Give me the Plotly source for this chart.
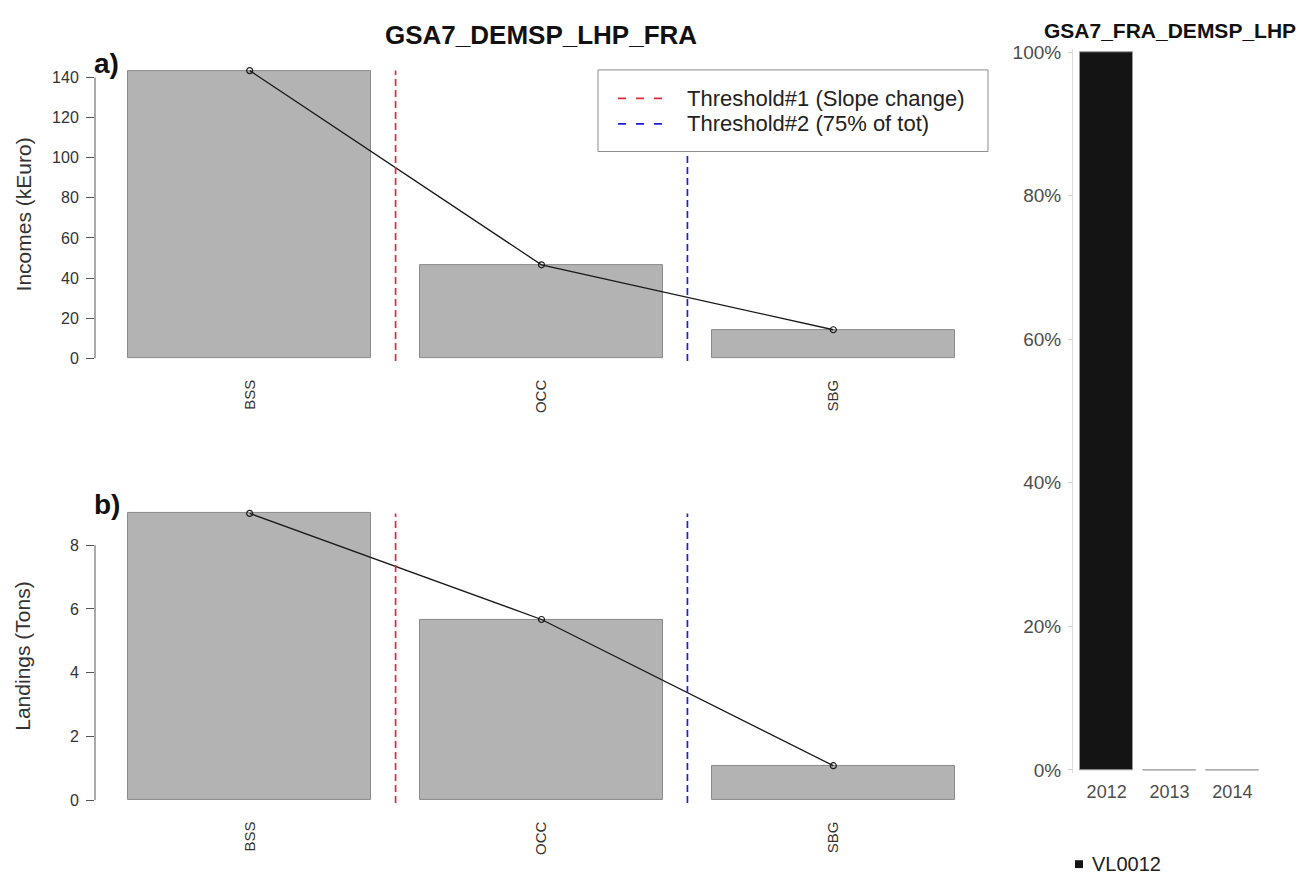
import plotly.graph_objects as go

# ---- data -------------------------------------------------------------
metiers = ["BSS", "OCC", "SBG"]
incomes_keur = [143.5, 46.6, 14.2]
landings_tons = [9.0, 5.67, 1.08]
threshold1_after = "BSS"   # slope change
threshold2_after = "OCC"   # 75% of total
income_ticks = [0, 20, 40, 60, 80, 100, 120, 140]
landing_ticks = [0, 2, 4, 6, 8]

years = ["2012", "2013", "2014"]
vl0012_share = [1.0, 0.0, 0.0]
share_ticks = [0, 0.2, 0.4, 0.6, 0.8, 1.0]

# ---- geometry helpers (barplot style: width 1, space 0.2) -------------
W, H = 1297, 881
FONT = "Liberation Sans"
BAR_W, SPACE = 1.0, 0.2
centers = [SPACE + BAR_W / 2 + i * (BAR_W + SPACE) for i in range(len(metiers))]
x_lo = SPACE
x_hi = centers[-1] + BAR_W / 2
x_pad = 0.04 * (x_hi - x_lo)
x_range = [x_lo - x_pad, x_hi + x_pad]
thr1_x = centers[metiers.index(threshold1_after)] + (BAR_W + SPACE) / 2
thr2_x = centers[metiers.index(threshold2_after)] + (BAR_W + SPACE) / 2
RED, BLUE = "#e32b35", "#1f1fd9"


def px_x(p):
    return p / W


def px_y(p):
    return 1 - p / H


def note(text, x, y, size, color="#222222", xanchor="center", angle=0):
    return dict(text=text, x=px_x(x), y=px_y(y), xref="paper", yref="paper",
                xanchor=xanchor, yanchor="middle", textangle=angle,
                showarrow=False, font=dict(family=FONT, size=size, color=color))


fig = go.Figure()

panels = [
    dict(vals=incomes_keur, ticks=income_ticks, xa="x", ya="y",
         dom_y=[px_y(369), px_y(53)], title="Incomes (kEuro)", tag="a)",
         title_y=211, tag_y=57),
    dict(vals=landings_tons, ticks=landing_ticks, xa="x2", ya="y2",
         dom_y=[px_y(818.5), px_y(503.5)], title="Landings (Tons)", tag="b)",
         title_y=661, tag_y=506),
]

shapes = []
annotations = []
layout_axes = {}

for k, p in enumerate(panels):
    vals = p["vals"]
    top = max(vals)
    pad = 0.04 * top
    fig.add_trace(go.Bar(
        x=centers, y=vals, width=BAR_W, xaxis=p["xa"], yaxis=p["ya"],
        marker=dict(color="#b3b3b3", line=dict(color="#8a8a8a", width=1)),
        showlegend=False, hoverinfo="skip"))
    fig.add_trace(go.Scatter(
        x=centers, y=vals, xaxis=p["xa"], yaxis=p["ya"], mode="lines+markers",
        line=dict(color="#1a1a1a", width=1.3),
        marker=dict(symbol="circle-open", size=6, color="#1a1a1a",
                    line=dict(width=1.2)),
        showlegend=False, hoverinfo="skip"))
    for xv, col in ((thr1_x, RED), (thr2_x, BLUE)):
        fig.add_trace(go.Scatter(
            x=[xv, xv], y=[-0.01 * top, top], xaxis=p["xa"], yaxis=p["ya"],
            mode="lines", line=dict(color=col, width=1.7, dash="7px,4px"),
            showlegend=False, hoverinfo="skip"))

    sfx = "" if k == 0 else str(k + 1)
    layout_axes["xaxis" + sfx] = dict(
        domain=[px_x(95), px_x(988)], range=x_range, anchor="y" + sfx,
        tickmode="array", tickvals=centers, ticktext=metiers, tickangle=-90,
        ticks="", showline=False, showgrid=False, zeroline=False,
        ticklabelstandoff=6,
        tickfont=dict(family=FONT, size=15, color="#333333"))
    layout_axes["yaxis" + sfx] = dict(
        domain=p["dom_y"], range=[-pad, top + pad], anchor="x" + sfx,
        tickmode="array", tickvals=p["ticks"], ticks="outside", ticklen=8,
        tickcolor="#555555", tickwidth=1, showline=False, showgrid=False,
        zeroline=False, ticklabelstandoff=4,
        tickfont=dict(family=FONT, size=16, color="#333333"))
    # R-style axis line that stops at the outer ticks
    shapes.append(dict(type="line", xref=("x" + sfx) + " domain", yref="y" + sfx,
                       x0=0, x1=0, y0=p["ticks"][0], y1=p["ticks"][-1],
                       line=dict(color="#555555", width=1)))
    annotations.append(note(p["title"], 23, p["title_y"], 21, "#333333",
                            angle=-90))
    annotations.append(note("<b>" + p["tag"] + "</b>", 92, p["tag_y"], 28,
                            "#111111", xanchor="left"))

# ---- threshold legend (top panel) --------------------------------------
shapes.append(dict(type="rect", xref="paper", yref="paper",
                   x0=px_x(598), x1=px_x(988), y0=px_y(147), y1=px_y(64),
                   line=dict(color="#8c8c8c", width=1), fillcolor="white"))
for yy, col, txt in ((93, RED, "Threshold#1 (Slope change)"),
                     (119, BLUE, "Threshold#2 (75% of tot)")):
    shapes.append(dict(type="line", xref="paper", yref="paper",
                       x0=px_x(618), x1=px_x(662), y0=px_y(yy), y1=px_y(yy),
                       line=dict(color=col, width=1.7, dash="8px,10px")))
    annotations.append(note(txt, 685, yy, 22, xanchor="left"))

annotations.append(note("<b>GSA7_DEMSP_LHP_FRA</b>", 541, 28, 26, "#111111"))

# ---- right panel: vessel length share by year ---------------------------
fig.add_trace(go.Bar(
    x=years, y=vl0012_share, width=0.84, xaxis="x3", yaxis="y3",
    marker=dict(color="#141414", line=dict(color="#9a9a9a", width=1)),
    showlegend=False, hoverinfo="skip", cliponaxis=False))
# outline of empty years, drawn along the zero level of each bar
for i, v in enumerate(vl0012_share):
    if v == 0:
        shapes.append(dict(type="line", xref="x3", yref="y3",
                           x0=i - 0.42, x1=i + 0.42, y0=v, y1=v,
                           line=dict(color="#b5b5b5", width=1.2)))

layout_axes["xaxis3"] = dict(
    domain=[px_x(1073), px_x(1266)], range=[-0.535, 2.535], anchor="y3",
    type="category", ticks="", showline=False, showgrid=False,
    zeroline=False, ticklabelstandoff=6,
    tickfont=dict(family=FONT, size=18, color="#4d4d4d"))
layout_axes["yaxis3"] = dict(
    domain=[px_y(779), px_y(43)], range=[-0.004, 1.004], anchor="x3",
    tickmode="array", tickvals=share_ticks, tickformat=".0%",
    ticks="outside", ticklen=4, tickcolor="#cfcfcf", showline=True,
    linecolor="#dcdcdc", linewidth=1, showgrid=False, zeroline=False,
    ticklabelstandoff=3,
    tickfont=dict(family=FONT, size=19, color="#4d4d4d"))

annotations.append(note("<b>GSA7_FRA_DEMSP_LHP</b>", 1170, 24, 21, "#111111"))
shapes.append(dict(type="rect", xref="paper", yref="paper",
                   x0=px_x(1075), x1=px_x(1083), y0=px_y(876), y1=px_y(868),
                   line=dict(width=0), fillcolor="#141414"))
annotations.append(note("VL0012", 1090, 872, 20, xanchor="left"))

fig.update_layout(
    width=W, height=H, margin=dict(l=0, r=0, t=0, b=0),
    paper_bgcolor="white", plot_bgcolor="white",
    bargap=0, shapes=shapes, annotations=annotations,
    **layout_axes)

fig.write_html("out.html")
